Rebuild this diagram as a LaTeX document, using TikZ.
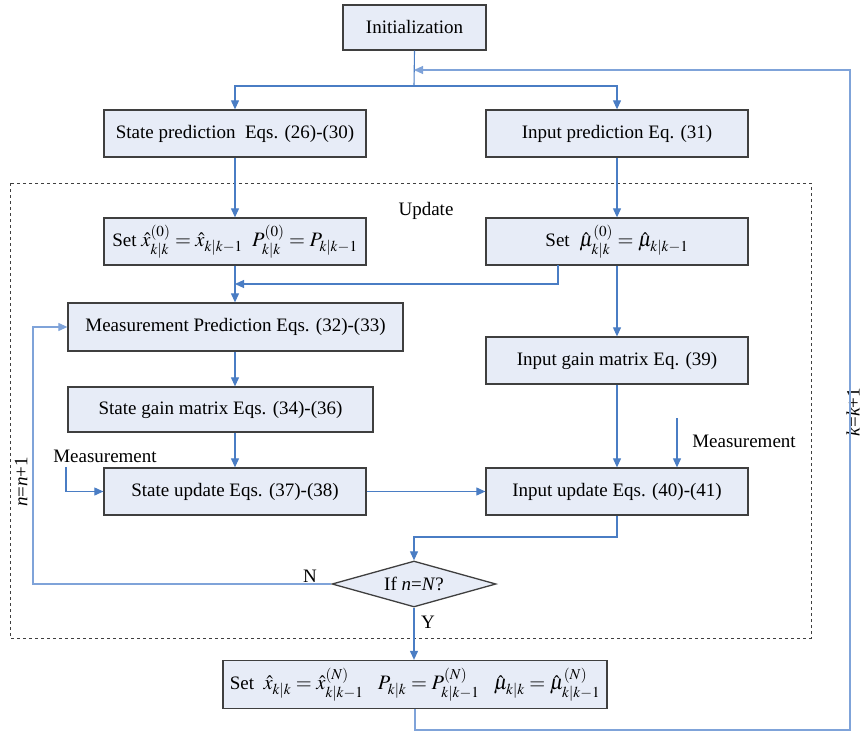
\documentclass[tikz,border=0pt]{standalone}
\usepackage{mathptmx}
\usepackage{fontspec}
\setmainfont{Liberation Serif}
\usetikzlibrary{arrows.meta,shapes.geometric,calc}
\definecolor{boxfill}{HTML}{E7ECF7}
\definecolor{boxdraw}{HTML}{3F3F3F}
\definecolor{arr}{HTML}{4A7DC4}
\definecolor{loopc}{HTML}{7FA3D9}
\newcommand{\eqbig}[1]{{\fontsize{20.5}{24}\selectfont$#1$}}
\tikzset{
  every node/.style={font=\fontsize{19}{22}\selectfont},
  blk/.style={draw=boxdraw, fill=boxfill, line width=1.3pt, inner sep=0pt},
  conn/.style={draw=arr, line width=1.1pt, -{Triangle[width=8pt,length=9pt]}},
  plain/.style={draw=arr, line width=1.1pt},
  loopa/.style={draw=loopc, line width=1.1pt, -{Triangle[width=8pt,length=9pt]}},
  lbl/.style={inner sep=0pt}
}
\begin{document}
\begin{tikzpicture}[x=1pt,y=-1pt]
\useasboundingbox (0,0) rectangle (865,733);
% dashed update region
\draw[dashed, draw=boxdraw, line width=0.9pt] (10,183) rectangle (811,638);
\node[lbl] (upd) at (426,211) {Update};

% boxes
\node[blk, minimum width=143pt, minimum height=45pt] (init) at (414.5,27.5) {Initialization};
\node[blk, minimum width=262pt, minimum height=47pt] (sp) at (235,133.5) {State prediction\ \ Eqs. (26)-(30)};
\node[blk, minimum width=262pt, minimum height=47pt] (ip) at (617,133.5) {Input prediction Eq. (31)};
\node[blk, minimum width=262pt, minimum height=47pt] (setx) at (235,241.5)
  {Set\ \eqbig{\hat{x}^{(0)}_{k|k}=\hat{x}_{k|k-1}}\ \ \eqbig{P^{(0)}_{k|k}=P_{k|k-1}}};
\node[blk, minimum width=262pt, minimum height=47pt] (setmu) at (617,241.5)
  {Set\ \ \eqbig{\hat{\mu}^{(0)}_{k|k}=\hat{\mu}_{k|k-1}}};
\node[blk, minimum width=335pt, minimum height=48pt] (mp) at (235.5,327) {Measurement Prediction Eqs. (32)-(33)};
\node[blk, minimum width=262pt, minimum height=47pt] (igm) at (617,360.5) {Input gain matrix Eq. (39)};
\node[blk, minimum width=305pt, minimum height=45pt] (sgm) at (220.5,409.5) {State gain matrix Eqs. (34)-(36)};
\node[blk, minimum width=262pt, minimum height=47pt] (su) at (235,491.5) {State update Eqs. (37)-(38)};
\node[blk, minimum width=262pt, minimum height=47pt] (iu) at (617,491.5) {Input update Eqs. (40)-(41)};
\node[blk, diamond, aspect=3.5, minimum width=164pt, minimum height=46pt] (dia) at (414,584) {If \textit{n}=\textit{N}?};
\node[blk, minimum width=384pt, minimum height=48pt] (fin) at (415,684.5)
  {Set\ \ \eqbig{\hat{x}_{k|k}=\hat{x}^{(N)}_{k|k-1}}\ \ \ \eqbig{P_{k|k}=P^{(N)}_{k|k-1}}\ \ \ \eqbig{\hat{\mu}_{k|k}=\hat{\mu}^{(N)}_{k|k-1}}};

% labels
\node[lbl] (meL) at (105,456) {Measurement};
\node[lbl] (meR) at (744,441) {Measurement};
\node[lbl] (nlab) at (310,576) {N};
\node[lbl] (ylab) at (428,622) {Y};
\node[lbl, rotate=90] (nloop) at (21,482) {\textit{n}=\textit{n}+1};
\node[lbl, rotate=90] (kloop) at (853,412) {\textit{k}=\textit{k}+1};

% coordinates
\coordinate (split) at (414,86);
\coordinate (fbin) at (414,70);
\coordinate (fb2) at (850,730);
\coordinate (m1) at (558,265);
\coordinate (j1) at (235,284);
\coordinate (ml) at (66,467);
\coordinate (mr) at (677,418);
\coordinate (c1) at (617,537);
\coordinate (l1) at (33,584);

% connectors
\draw[plain] (init.south) -- (split);
\draw[conn] (split) -| (sp.north);
\draw[conn] (split) -| (ip.north);
\draw[loopa] (fin.south) |- (fb2) |- (fbin);
\draw[conn] (sp.south) -- (setx.north);
\draw[conn] (ip.south) -- (setmu.north);
\draw[conn] (setx.south) -- (mp.north -| setx.south);
\draw[conn] (m1) |- (j1);
\draw[conn] (setmu.south) -- (igm.north);
\draw[conn] (mp.south -| setx.south) -- (sgm.north -| setx.south);
\draw[conn] (sgm.south -| su.north) -- (su.north);
\draw[conn] (ml) |- (su.west);
\draw[conn] (su.east) -- (iu.west);
\draw[conn] (igm.south) -- (iu.north);
\draw[conn] (mr) -- (mr |- iu.north);
\draw[conn] (iu.south) -- (c1) -| (dia.north);
\draw[loopa] (dia.west) -- (l1) |- (mp.west);
\draw[conn] (dia.south) -- (dia.south |- fin.north);
\end{tikzpicture}
\end{document}
